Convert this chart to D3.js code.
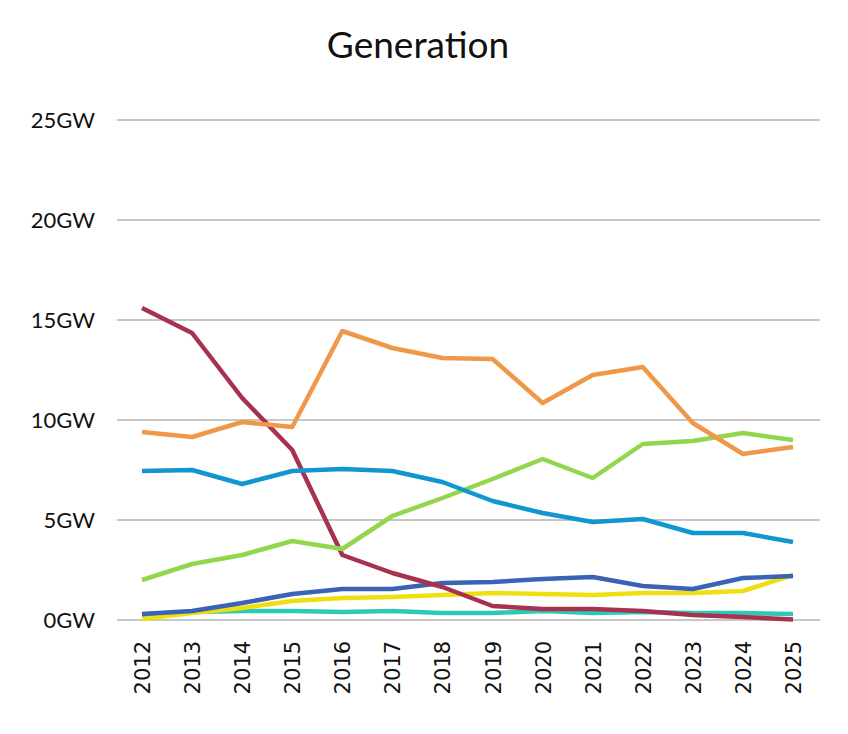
<!DOCTYPE html>
<html>
<head>
<meta charset="utf-8">
<script src="https://cdn.jsdelivr.net/npm/d3@7"></script>
<style>
    body { margin: 0; background: #fff; }
</style>
</head>
<body>
<div id="chart"></div>
<script>
const years = [2012, 2013, 2014, 2015, 2016, 2017, 2018, 2019, 2020, 2021, 2022, 2023, 2024, 2025];
const yTicks = [0, 5, 10, 15, 20, 25];

const coal    = [15.6, 14.35, 11.1, 8.5, 3.25, 2.35, 1.65, 0.7, 0.55, 0.55, 0.45, 0.25, 0.15, 0.03];
const gas     = [9.4, 9.15, 9.9, 9.65, 14.45, 13.6, 13.1, 13.05, 10.85, 12.25, 12.65, 9.85, 8.3, 8.65];
const nuclear = [7.45, 7.5, 6.8, 7.45, 7.55, 7.45, 6.9, 5.95, 5.35, 4.9, 5.05, 4.35, 4.35, 3.9];
const wind    = [2.0, 2.8, 3.25, 3.95, 3.55, 5.2, 6.1, 7.05, 8.05, 7.1, 8.8, 8.95, 9.35, 9.0];
const hydro   = [0.3, 0.45, 0.85, 1.3, 1.55, 1.55, 1.85, 1.9, 2.05, 2.15, 1.7, 1.55, 2.1, 2.2];
const solar   = [0.05, 0.35, 0.6, 0.95, 1.1, 1.15, 1.25, 1.35, 1.3, 1.25, 1.35, 1.35, 1.45, 2.25];
const other   = [0.25, 0.4, 0.45, 0.45, 0.4, 0.45, 0.35, 0.35, 0.45, 0.35, 0.4, 0.35, 0.35, 0.3];

// drawing order: bottom first
const series = [
    { name: "other", values: other, color: "#2ec9b5" },
    { name: "solar", values: solar, color: "#f0df10" },
    { name: "hydro", values: hydro, color: "#3a62b5" },
    { name: "coal", values: coal, color: "#a6324f" },
    { name: "wind", values: wind, color: "#92d64e" },
    { name: "nuclear", values: nuclear, color: "#1196cf" },
    { name: "gas", values: gas, color: "#f0984a" }
];

const width = 848, height = 734;
const margin = { top: 120, right: 28, bottom: 114, left: 117 };

const svg = d3.select("#chart").append("svg")
    .attr("width", width)
    .attr("height", height);

const x = d3.scalePoint()
    .domain(years)
    .range([142, 793]);

const y = d3.scaleLinear()
    .domain([0, 25])
    .range([height - margin.bottom, margin.top]);

// Title
svg.append("text")
    .attr("x", 418)
    .attr("y", 58)
    .attr("text-anchor", "middle")
    .style("font-family", "Lato, 'Open Sans', sans-serif")
    .style("font-size", "37px")
    .style("fill", "#111")
    .text("Generation");

// Gridlines
svg.append("g")
    .selectAll("line")
    .data(yTicks)
    .enter()
    .append("line")
    .attr("x1", margin.left)
    .attr("x2", width - margin.right)
    .attr("y1", d => y(d))
    .attr("y2", d => y(d))
    .attr("stroke", "#b4b4b4")
    .attr("stroke-width", 1.5);

// Y labels
svg.append("g")
    .selectAll("text")
    .data(yTicks)
    .enter()
    .append("text")
    .attr("x", 95)
    .attr("y", d => y(d) + 8)
    .attr("text-anchor", "end")
    .style("font-family", "Lato, 'Open Sans', sans-serif")
    .style("font-size", "22px")
    .style("fill", "#111")
    .text(d => d + "GW");

// X labels (rotated)
svg.append("g")
    .selectAll("text")
    .data(years)
    .enter()
    .append("text")
    .attr("transform", d => `translate(${x(d) + 8}, 641) rotate(-90)`)
    .attr("text-anchor", "end")
    .style("font-family", "'DejaVu Sans', sans-serif")
    .style("font-size", "21px")
    .style("fill", "#111")
    .text(d => d);

// Lines
const line = d3.line()
    .x((d, i) => x(years[i]))
    .y(d => y(d));

svg.append("g")
    .selectAll("path")
    .data(series)
    .enter()
    .append("path")
    .attr("d", d => line(d.values))
    .attr("fill", "none")
    .attr("stroke", d => d.color)
    .attr("stroke-width", 4.5)
    .attr("stroke-linejoin", "round");
</script>
</body>
</html>
